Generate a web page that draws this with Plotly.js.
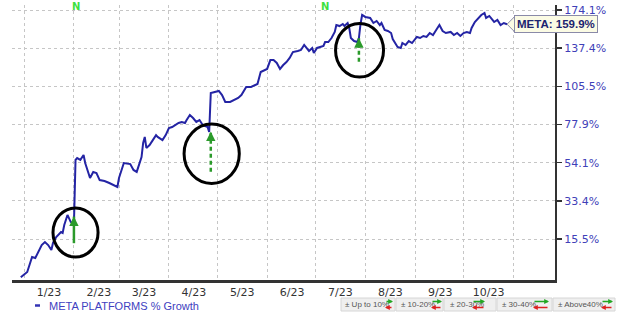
<!DOCTYPE html>
<html><head><meta charset="utf-8">
<script src="https://cdn.plot.ly/plotly-3.0.1.min.js"></script>
<style>html,body{margin:0;padding:0;background:#fff}#chart{width:620px;height:316px}</style>
</head><body><div id="chart"></div>
<script>
// ---------------- data ----------------
const dates = [
 '2022-12-30','2023-01-03','2023-01-05','2023-01-06','2023-01-08','2023-01-10','2023-01-12','2023-01-14','2023-01-16','2023-01-18',
 '2023-01-19','2023-01-21','2023-01-24','2023-01-25','2023-01-26','2023-01-28','2023-01-30','2023-01-31','2023-02-01','2023-02-02',
 '2023-02-03','2023-02-05','2023-02-07','2023-02-08','2023-02-11','2023-02-13','2023-02-15','2023-02-17','2023-02-20','2023-02-23',
 '2023-02-26','2023-02-28','2023-03-01','2023-03-04','2023-03-08','2023-03-10','2023-03-12','2023-03-14','2023-03-15','2023-03-16',
 '2023-03-17','2023-03-18','2023-03-20','2023-03-22','2023-03-24','2023-03-25','2023-03-28','2023-03-30','2023-04-01','2023-04-03',
 '2023-04-05','2023-04-07','2023-04-09','2023-04-11','2023-04-12','2023-04-14','2023-04-16','2023-04-18','2023-04-20','2023-04-22',
 '2023-04-25','2023-04-26','2023-04-27','2023-04-30','2023-05-02','2023-05-04','2023-05-06','2023-05-09','2023-05-12','2023-05-14',
 '2023-05-16','2023-05-19','2023-05-22','2023-05-26','2023-05-28','2023-05-30','2023-06-01','2023-06-03','2023-06-05','2023-06-07',
 '2023-06-09','2023-06-11','2023-06-13','2023-06-15','2023-06-17','2023-06-20','2023-06-22','2023-06-24','2023-06-27','2023-06-29',
 '2023-06-30','2023-07-02','2023-07-04','2023-07-06','2023-07-07','2023-07-09','2023-07-11','2023-07-13','2023-07-14','2023-07-16',
 '2023-07-18','2023-07-19','2023-07-21','2023-07-22','2023-07-23','2023-07-25','2023-07-27','2023-07-28','2023-07-29','2023-07-30',
 '2023-08-01','2023-08-04','2023-08-06','2023-08-08','2023-08-10','2023-08-11','2023-08-13','2023-08-15','2023-08-17','2023-08-18',
 '2023-08-21','2023-08-23','2023-08-24','2023-08-26','2023-08-28','2023-08-30','2023-09-02','2023-09-04','2023-09-06','2023-09-08',
 '2023-09-10','2023-09-12','2023-09-14','2023-09-16','2023-09-18','2023-09-20','2023-09-23','2023-09-25','2023-09-27','2023-09-29',
 '2023-10-01','2023-10-03','2023-10-05','2023-10-06','2023-10-08','2023-10-10','2023-10-12','2023-10-14','2023-10-15','2023-10-17',
 '2023-10-20','2023-10-22','2023-10-24','2023-10-26','2023-10-28'
];
const growthPct = [
 0, 2.0, 5.9, 7.9, 7.5, 10.0, 12.9, 14.2, 12.9, 10.8,
 13.8, 16.4, 18.6, 18.2, 21.8, 26.5, 23.2, 22.7, 22.2, 55.7,
 56.8, 55.7, 58.6, 53.9, 45.4, 48.8, 48.2, 44.3, 43.8, 42.7,
 41.6, 40.6, 45.4, 53.9, 53.3, 49.9, 48.8, 54.5, 57.4, 66.0,
 69.8, 62.9, 64.7, 67.8, 71.0, 69.8, 67.8, 71.0, 75.6, 76.3,
 77.6, 79.0, 79.7, 79.0, 81.0, 84.5, 82.4, 79.7, 81.0, 77.6,
 76.3, 73.0, 100.5, 101.2, 102.0, 98.9, 93.8, 93.8, 95.2, 96.7,
 98.9, 105.1, 105.1, 107.4, 117.0, 118.6, 119.5, 127.0, 127.0, 124.5,
 119.5, 122.8, 125.3, 128.8, 134.0, 134.9, 135.8, 140.3, 134.9, 137.6,
 133.1, 137.6, 138.5, 139.4, 143.0, 143.0, 146.7, 152.4, 159.1, 158.1,
 160.1, 158.1, 161.1, 156.2, 146.7, 143.9, 143.0, 146.7, 160.1, 169.1,
 167.1, 166.1, 161.1, 163.1, 159.1, 161.1, 154.3, 153.3, 151.4, 145.8,
 138.5, 137.6, 142.1, 140.3, 143.9, 142.1, 147.7, 146.7, 148.6, 147.7,
 151.4, 149.5, 154.3, 159.1, 153.3, 151.4, 152.4, 149.5, 151.4, 148.6,
 151.4, 152.4, 151.4, 156.2, 162.1, 165.1, 169.1, 171.1, 166.1, 168.1,
 162.1, 164.1, 159.1, 161.1, 159.9
];
const monthStarts = ['2023-01-01','2023-02-01','2023-03-01','2023-04-01','2023-05-01','2023-06-01',
                     '2023-07-01','2023-08-01','2023-09-01','2023-10-01','2023-11-01'];
const monthLabels = ['1/23','2/23','3/23','4/23','5/23','6/23','7/23','8/23','9/23','10/23',''];
const yTickPct = [15.5, 33.4, 54.1, 77.9, 105.5, 137.4, 174.1];
const seriesName = 'META PLATFORMS % Growth';
const tickerLabel = 'META';
const newsDates = ['2023-02-02', '2023-07-07'];
const bandLabels = ['\u00b1 Up to 10%', '\u00b1 10-20%', '\u00b1 20-30%', '\u00b1 30-40%', '\u00b1 Above40%'];

// --------------- helpers ---------------
const toY = p => Math.log10(1 + p / 100);
const PL = 12, PR = 555, PT = 5, PB = 280;           // plot box in page pixels (layout only)
const px = v => (v - PL) / (PR - PL);
const py = v => (PB - v) / (PB - PT);

const lineColor = '#2424a4';
const green = '#2b9a2b';

const trace = {
  x: dates, y: growthPct.map(toY), type: 'scatter', mode: 'lines',
  line: {color: lineColor, width: 2}, hoverinfo: 'skip', name: seriesName
};

const shapes = [];
const annotations = [];

// circles marking breakouts (data coordinates)
[
  ['2023-01-19', '2023-02-16', 7.9, 29.9],
  ['2023-04-10 10:00', '2023-05-14 17:00', 42.5, 78.3],
  ['2023-07-13 12:00', '2023-08-12 07:00', 112.9, 160.6]
].forEach(c => shapes.push({type: 'circle', xref: 'x', yref: 'y', x0: c[0], x1: c[1],
  y0: toY(c[2]), y1: toY(c[3]), line: {color: '#000', width: 3}, fillcolor: 'rgba(0,0,0,0)'}));

// green up arrows
[
  ['2023-02-01', 13.7, 25.7, 'solid'],
  ['2023-04-27', 48.9, 73.2, '4px,3px'],
  ['2023-07-28', 125.6, 146.4, '4px,3px']
].forEach(a => {
  shapes.push({type: 'line', xref: 'x', yref: 'y', x0: a[0], x1: a[0], y0: toY(a[1]), y1: toY(a[2]),
    line: {color: green, width: 2.5, dash: a[3]}});
  annotations.push({xref: 'x', yref: 'y', x: a[0], y: toY(a[2]), text: '', showarrow: true,
    ax: 0, ay: 7, arrowhead: 2, arrowsize: 0.75, arrowwidth: 2.5, arrowcolor: green, standoff: 0});
});

// green "N" markers at top
newsDates.forEach(d => annotations.push({xref: 'x', yref: 'paper', x: d, y: py(6), yanchor: 'middle',
  text: '<b>N</b>', showarrow: false, font: {family: 'DejaVu Sans', size: 10, color: '#3fe03f'}}));

// last value tag
const lastIdx = dates.length - 1;
shapes.push({type: 'path', xref: 'x', yref: 'y', xsizemode: 'pixel', ysizemode: 'pixel',
  xanchor: dates[lastIdx], yanchor: toY(growthPct[lastIdx]), path: 'M0,0 L8,8 L8,-8 Z',
  fillcolor: '#fbfbe4', line: {color: '#8a8aa8', width: 1}});
annotations.push({xref: 'x', yref: 'y', x: dates[lastIdx], y: toY(growthPct[lastIdx]),
  xanchor: 'left', yanchor: 'middle', xshift: 7, showarrow: false,
  text: '<b>' + tickerLabel + ': ' + growthPct[lastIdx].toFixed(1) + '%</b>',
  font: {family: 'Liberation Sans', size: 11.5, color: '#1c2470'},
  bgcolor: '#fbfbe4', bordercolor: '#8a8aa8', borderwidth: 1, borderpad: 2});

// series legend (bottom-left)
shapes.push({type: 'line', xref: 'paper', yref: 'paper', x0: px(35), x1: px(40), y0: py(305.5), y1: py(305.5),
  line: {color: '#3434b4', width: 2.5}});
annotations.push({xref: 'paper', yref: 'paper', x: px(47), y: py(305.7), xanchor: 'left', yanchor: 'middle',
  text: seriesName, showarrow: false, font: {family: 'Liberation Sans', size: 11, color: '#4040c0'}});

// band key boxes (bottom-right)
const boxX = [[341, 395], [396, 443], [444, 496], [497, 552], [553, 615]];
const textX = [343, 399, 448, 500, 556];
const arrX = [[385, 393], [431, 442], [472, 485], [533, 549], [601, 613]];
bandLabels.forEach((lab, i) => {
  shapes.push({type: 'rect', xref: 'paper', yref: 'paper', x0: px(boxX[i][0]), x1: px(boxX[i][1]),
    y0: py(311), y1: py(298), fillcolor: '#efefef', line: {color: '#d6d6d6', width: 1}});
  annotations.push({xref: 'paper', yref: 'paper', x: px(textX[i]), y: py(304.5), xanchor: 'left', yanchor: 'middle',
    text: lab, showarrow: false, font: {family: 'Liberation Sans', size: 8, color: '#555'}});
  const len = arrX[i][1] - arrX[i][0];
  annotations.push({xref: 'paper', yref: 'paper', x: px(arrX[i][1]), y: py(301.5), text: '', showarrow: true,
    ax: -len, ay: 0, arrowhead: 2, arrowsize: 0.6, arrowwidth: 1.6, arrowcolor: '#22a622', standoff: 0});
  annotations.push({xref: 'paper', yref: 'paper', x: px(arrX[i][0]), y: py(307.5), text: '', showarrow: true,
    ax: len, ay: 0, arrowhead: 2, arrowsize: 0.6, arrowwidth: 1.6, arrowcolor: '#dd2222', standoff: 0});
});

const layout = {
  width: 620, height: 316,
  margin: {l: PL, r: 620 - PR, t: PT, b: 316 - PB},
  paper_bgcolor: '#fff', plot_bgcolor: '#fff', showlegend: false,
  xaxis: {
    type: 'date', range: ['2022-12-24 13:00', '2023-11-26 19:00'],
    tickmode: 'array', tickvals: monthStarts, ticktext: monthLabels, ticklabelshift: 25,
    showgrid: true, gridcolor: '#c6c6c6', griddash: 'dot', gridwidth: 1,
    showline: true, linecolor: '#333', linewidth: 2.5, ticks: '', zeroline: false,
    tickfont: {family: 'DejaVu Sans', size: 11, color: '#333'}, fixedrange: true
  },
  yaxis: {
    side: 'right', range: [-0.00459, 0.4463],
    tickmode: 'array', tickvals: yTickPct.map(toY), ticktext: yTickPct.map(v => v.toFixed(1) + '%'),
    showgrid: true, gridcolor: '#c6c6c6', griddash: 'dot', gridwidth: 1,
    showline: true, linecolor: '#333', linewidth: 2, ticks: 'outside', ticklen: 5, tickwidth: 1.5, tickcolor: '#333',
    zeroline: false, tickfont: {family: 'DejaVu Sans', size: 11, color: '#4040b8'}, fixedrange: true
  },
  shapes: shapes,
  annotations: annotations
};

Plotly.newPlot('chart', [trace], layout, {displayModeBar: false, staticPlot: true});
</script>
</body></html>
